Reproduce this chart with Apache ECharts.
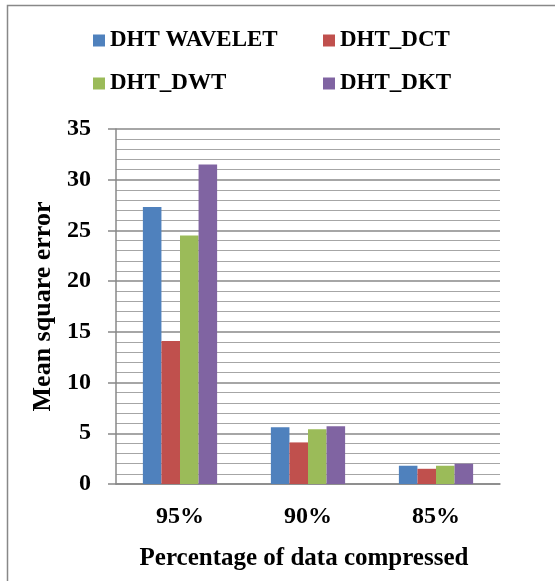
<!DOCTYPE html>
<html><head><meta charset="utf-8">
<script src="https://cdn.jsdelivr.net/npm/echarts@6/dist/echarts.min.js"></script>
<style>html,body{margin:0;padding:0;background:#fff}#c{width:555px;height:581px}</style>
</head><body><div id="c"></div>
<script>
const categories = ['95%', '90%', '85%'];
const seriesNames = ['DHT WAVELET', 'DHT_DCT', 'DHT_DWT', 'DHT_DKT'];
const dhtWavelet = [27.3, 5.6, 1.8];
const dhtDct = [14.1, 4.1, 1.5];
const dhtDwt = [24.5, 5.4, 1.8];
const dhtDkt = [31.5, 5.7, 2.0];
const yTicks = [0, 5, 10, 15, 20, 25, 30, 35];
const colors = ['#4F81BD', '#C0504D', '#9BBB59', '#8064A2'];
const values = [dhtWavelet, dhtDct, dhtDwt, dhtDkt];
const font = '"Liberation Serif","Times New Roman",serif';
const legTxt = {fontFamily:font, fontWeight:'bold', fontSize:23, color:'#000'};
const legBase = {itemWidth:12, itemHeight:12, itemGap:5, icon:'rect', padding:0, textStyle:legTxt};

const chart = echarts.init(document.getElementById('c'));
chart.setOption({
  animation: false,
  color: colors,
  graphic: [{type:'rect', shape:{x:7.5, y:5.5, width:600, height:600}, style:{fill:'none', stroke:'#888', lineWidth:1.5}, silent:true}],
  legend: [
    Object.assign({data:[seriesNames[0]], left:93, top:29}, legBase),
    Object.assign({data:[seriesNames[1]], left:323, top:29}, legBase),
    Object.assign({data:[seriesNames[2]], left:93, top:72}, legBase),
    Object.assign({data:[seriesNames[3]], left:323, top:72}, legBase)
  ],
  grid: {left:116, right:55, top:129, bottom:97, containLabel:false},
  xAxis: {
    type:'category', data:categories,
    name:'Percentage of data compressed', nameLocation:'middle', nameGap:62,
    nameTextStyle:{fontFamily:font, fontWeight:'bold', fontSize:25, color:'#000', padding:[0,8,0,0]},
    axisLine:{lineStyle:{color:'#888', width:1.5}},
    axisTick:{show:false},
    axisLabel:{fontFamily:font, fontWeight:'bold', fontSize:24, color:'#000', margin:21},
    splitLine:{show:false}
  },
  yAxis: {
    type:'value', min:yTicks[0], max:yTicks[yTicks.length-1], interval:5,
    name:'Mean square error', nameLocation:'middle', nameGap:60, nameRotate:90,
    nameTextStyle:{fontFamily:font, fontWeight:'bold', fontSize:26, color:'#000'},
    axisLine:{show:true, lineStyle:{color:'#888', width:1.5}},
    axisTick:{show:true, length:8, lineStyle:{color:'#888', width:1.5}},
    axisLabel:{fontFamily:font, fontWeight:'bold', fontSize:24, color:'#000', margin:25},
    splitLine:{lineStyle:{color:'#888', width:1.5}},
    minorTick:{show:false, splitNumber:5},
    minorSplitLine:{show:true, lineStyle:{color:'#a6a6a6', width:1}}
  },
  series: seriesNames.map((n,i)=>({
    name:n, type:'bar', data:values[i], barGap:'0%', barCategoryGap:'42%',
    itemStyle:{color:colors[i]}
  }))
});
</script></body></html>
